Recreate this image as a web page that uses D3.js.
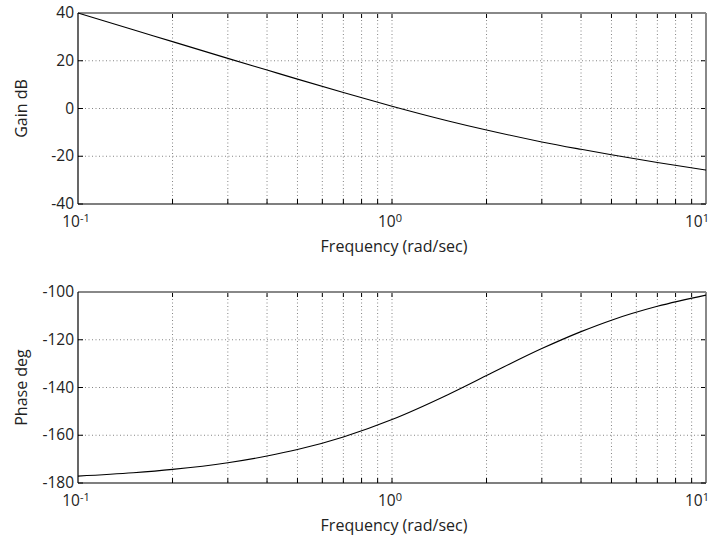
<!DOCTYPE html>
<html>
<head>
<meta charset="utf-8">
<script src="https://cdn.jsdelivr.net/npm/d3@7"></script>
<style>
body { margin: 0; background: #fff; }
svg { display: block; font-family: "Open Sans", "DejaVu Sans", sans-serif; }
</style>
</head>
<body>
<svg id="chart" width="710" height="537"></svg>
<script>
const freq = [0.1, 0.15, 0.2, 0.3, 0.4, 0.5, 0.7, 1, 1.5, 2, 3, 4, 5, 7, 10];
// Gain (dB)
const gainDb = [40.0, 33.0, 28.0, 21.0, 16.1, 12.3, 6.7, 0.97, -5.1, -9.0, -14.0, -17.1, -19.4, -22.6, -25.8];
// Phase (deg)
const phaseDeg = [-177.1, -175.7, -174.3, -171.5, -168.7, -166.0, -160.7, -153.4, -143.1, -135.0, -123.7, -116.6, -111.8, -106.0, -101.3];
// Axis ticks
const xMajor = [0.1, 1, 10];
const xMajorExp = ["-1", "0", "1"];
const xMinor = [0.2, 0.3, 0.4, 0.5, 0.6, 0.7, 0.8, 0.9, 2, 3, 4, 5, 6, 7, 8, 9];
const gainTicks = [-40, -20, 0, 20, 40];
const phaseTicks = [-180, -160, -140, -120, -100];
const xLabel = "Frequency (rad/sec)";

const svg = d3.select("#chart");
const left = 78, right = 706;
const x = d3.scaleLog().domain([0.1, 10]).range([left, right]);

function panel(top, bottom, yDomain, yTicks, values, yLabel) {
  const y = d3.scaleLinear().domain(yDomain).range([bottom, top]);
  const g = svg.append("g");
  // grid
  const gridX = xMinor.concat([1]);
  g.selectAll(".gx").data(gridX).enter().append("line")
    .attr("x1", d => x(d)).attr("x2", d => x(d))
    .attr("y1", top).attr("y2", bottom)
    .attr("stroke", "#666").attr("stroke-width", 0.8).attr("stroke-dasharray", "1,2.5");
  g.selectAll(".gy").data(yTicks.slice(1, -1)).enter().append("line")
    .attr("x1", left).attr("x2", right)
    .attr("y1", d => y(d)).attr("y2", d => y(d))
    .attr("stroke", "#666").attr("stroke-width", 0.8).attr("stroke-dasharray", "1,2.5");
  // ticks on x (bottom and top, inward)
  const allX = xMinor.concat([1]);
  g.selectAll(".tb").data(allX).enter().append("line")
    .attr("x1", d => x(d)).attr("x2", d => x(d))
    .attr("y1", bottom).attr("y2", bottom - 5)
    .attr("stroke", "#000").attr("stroke-width", 1);
  g.selectAll(".tt").data(allX).enter().append("line")
    .attr("x1", d => x(d)).attr("x2", d => x(d))
    .attr("y1", top).attr("y2", top + 5)
    .attr("stroke", "#000").attr("stroke-width", 1);
  // y ticks (left and right inward)
  g.selectAll(".tl").data(yTicks).enter().append("line")
    .attr("x1", left).attr("x2", left + 5)
    .attr("y1", d => y(d)).attr("y2", d => y(d))
    .attr("stroke", "#000").attr("stroke-width", 1);
  g.selectAll(".tr").data(yTicks).enter().append("line")
    .attr("x1", right).attr("x2", right - 5)
    .attr("y1", d => y(d)).attr("y2", d => y(d))
    .attr("stroke", "#000").attr("stroke-width", 1);
  // frame
  g.append("line").attr("x1", left).attr("x2", right).attr("y1", top).attr("y2", top)
    .attr("stroke", "#888").attr("stroke-width", 2);
  g.append("line").attr("x1", right).attr("x2", right).attr("y1", top).attr("y2", bottom)
    .attr("stroke", "#888").attr("stroke-width", 2);
  g.append("line").attr("x1", left).attr("x2", right).attr("y1", bottom).attr("y2", bottom)
    .attr("stroke", "#000").attr("stroke-width", 1.2);
  g.append("line").attr("x1", left).attr("x2", left).attr("y1", top).attr("y2", bottom)
    .attr("stroke", "#000").attr("stroke-width", 1.2);
  // curve
  const line = d3.line().x((d, i) => x(freq[i])).y(d => y(d)).curve(d3.curveMonotoneX);
  g.append("path").datum(values).attr("d", line)
    .attr("fill", "none").attr("stroke", "#000").attr("stroke-width", 1.1);
  // y tick labels
  g.selectAll(".yl").data(yTicks).enter().append("text")
    .attr("x", left - 4).attr("y", d => y(d) + 5)
    .attr("text-anchor", "end").attr("font-size", 15.5).attr("fill", "#222")
    .text(d => d);
  // x tick labels
  const xl = g.selectAll(".xl").data(xMajor).enter().append("text")
    .attr("x", (d, i) => i === xMajor.length - 1 ? 709 : x(d) - 2)
    .attr("y", bottom + 23)
    .attr("text-anchor", (d, i) => i === xMajor.length - 1 ? "end" : "middle")
    .attr("font-size", 15.5).attr("fill", "#222");
  xl.append("tspan").text("10");
  xl.append("tspan").attr("dy", -5).attr("font-size", 11).text((d, i) => xMajorExp[i]);
  // axis title
  g.append("text").attr("x", (left + right) / 2 + 2).attr("y", bottom + 48)
    .attr("text-anchor", "middle").attr("font-size", 16).attr("fill", "#222").text(xLabel);
  g.append("text").attr("transform", `translate(27,${(top + bottom) / 2}) rotate(-90)`)
    .attr("text-anchor", "middle").attr("font-size", 16).attr("fill", "#222").text(yLabel);
}

panel(13, 204, [-40, 40], gainTicks, gainDb, "Gain dB");
panel(292, 483, [-180, -100], phaseTicks, phaseDeg, "Phase deg");
</script>
</body>
</html>
